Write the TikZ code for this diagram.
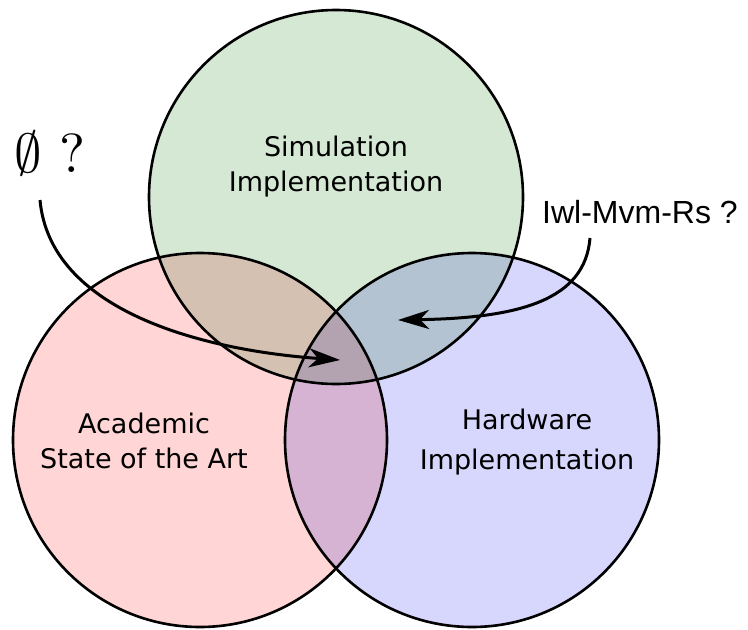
\documentclass[tikz,border=0pt]{standalone}
\usepackage{fontspec}
\setmainfont{DejaVu Sans}
\newfontfamily\arialfont{Liberation Sans}
\newfontfamily\lmmathfont{latinmodern-math}[Extension=.otf]
\usetikzlibrary{arrows.meta}
\definecolor{simgreen}{HTML}{D5E8D4}
\definecolor{acapink}{HTML}{FFD5D5}
\definecolor{hwblue}{HTML}{D7D7FD}
\tikzset{
  setlabel/.style={align=center, inner sep=0pt, font=\fontsize{27}{35}\selectfont},
  ring/.style={draw=black, line width=2.6pt},
  pointer/.style={line width=3pt, -{Stealth[length=31pt,width=19pt,inset=9pt]}}
}
\begin{document}
\begin{tikzpicture}[x=1pt,y=-1pt]
\useasboundingbox (0,0) rectangle (748,630);
\begin{scope}[blend group=multiply]
  \fill[simgreen] (336,197) circle[radius=187];
  \fill[acapink] (200,440) circle[radius=187];
  \fill[hwblue] (472,440) circle[radius=187];
\end{scope}
\draw[ring] (336,197) circle[radius=187];
\draw[ring] (200,440) circle[radius=187];
\draw[ring] (472,440) circle[radius=187];

\node[setlabel] (sim) at (336,167) {Simulation\\Implementation};
\node[setlabel] (aca) at (144,441) {Academic\\State of the Art};
\node[setlabel, font=\fontsize{27}{40}\selectfont] (hw) at (527,442) {Hardware\\Implementation};

\node[inner sep=0pt, anchor=base west, font=\lmmathfont\fontsize{55}{60}\selectfont] (empty) at (14,172) {∅ ?};
\node[inner sep=0pt, font=\arialfont\fontsize{32}{36}\selectfont] (iwl) at (640,212) {Iwl-Mvm-Rs ?};

\coordinate (s1) at (40,200);
\coordinate (e1) at (340,360);
\coordinate (s2) at (590,238);
\coordinate (e2) at (398,320);
\draw[pointer] (s1) .. controls (50,310) and (200,350) .. (e1);
\draw[pointer] (s2) .. controls (585,300) and (520,318) .. (e2);
\end{tikzpicture}
\end{document}
